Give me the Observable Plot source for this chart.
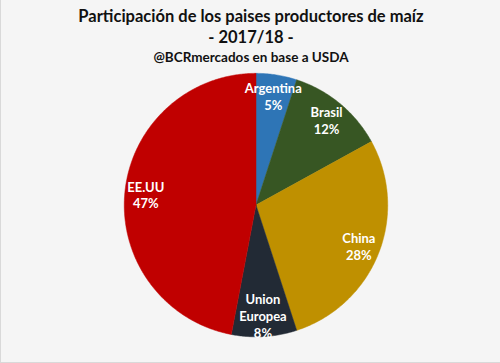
<!DOCTYPE html>
<html>
<head>
<meta charset="utf-8">
<script src="https://cdn.jsdelivr.net/npm/d3@7"></script>
<script src="https://cdn.jsdelivr.net/npm/@observablehq/plot@0.6"></script>
<style>
  html, body { margin: 0; padding: 0; }
  #wrap { position: relative; width: 500px; height: 363px; background: #f5f5f5; box-sizing: border-box; border-left: 1px solid #d9d9d9; border-bottom: 1px solid #d9d9d9; overflow: hidden; font-family: Lato, "Open Sans", sans-serif; }
  .t { position: absolute; left: 0; width: 500px; text-align: center; font-weight: bold; color: #111; }
  #chart { position: absolute; left: 0; top: 0; }
  #chart svg { overflow: visible; }
</style>
</head>
<body>
<div id="wrap">
  <div id="chart"></div>
  <div class="t" style="top:6px;font-size:16.5px;">Participación de los paises productores de maíz</div>
  <div class="t" style="top:27px;font-size:16.5px;">- 2017/18 -</div>
  <div class="t" style="top:49px;font-size:13.5px;">@BCRmercados en base a USDA</div>
</div>
<script>
const countries = ["Argentina", "Brasil", "China", "Union\nEuropea", "EE.UU"];
const shares = [5, 12, 28, 8, 47];
const colors = ["#2e75b6", "#375623", "#bf9000", "#222a35", "#c00000"];

const pie = d3.pie().sort(null).value(d => d.value);
const arcs = pie(countries.map((c, i) => ({name: c, value: shares[i]})));

// polygon points per slice in unit-circle coordinates (angle clockwise from top)
const slicePts = [];
arcs.forEach(a => {
  slicePts.push({name: a.data.name, x: 0, y: 0});
  const n = Math.max(4, Math.ceil((a.endAngle - a.startAngle) / 0.01));
  for (let k = 0; k <= n; k++) {
    const t = a.startAngle + (a.endAngle - a.startAngle) * k / n;
    slicePts.push({name: a.data.name, x: Math.sin(t), y: Math.cos(t)});
  }
  slicePts.push({name: a.data.name, x: 0, y: 0});
});

const labels = arcs.map(a => {
  const m = (a.startAngle + a.endAngle) / 2;
  const r = 0.84;
  return {text: a.data.name + "\n" + a.data.value + "%", x: r * Math.sin(m), y: r * Math.cos(m)};
});

const R = 132, cx = 255, cy = 205, W = 500, H = 363;
const chart = Plot.plot({
  width: W, height: H,
  margin: 0,
  x: {domain: [-cx / R, (W - cx) / R], axis: null},
  y: {domain: [-(H - cy) / R, cy / R], axis: null},
  color: {domain: countries, range: colors},
  style: {background: "transparent"},
  marks: [
    Plot.line(slicePts, {x: "x", y: "y", z: "name", fill: "name", stroke: "name", strokeWidth: 0.5, curve: "linear",
      style: "filter: drop-shadow(0px 3px 3px rgba(0,0,0,0.25))"}),
    Plot.text(labels, {x: "x", y: "y", text: "text", fill: "white", fontSize: 13, fontWeight: "bold",
      fontFamily: "Lato, 'Open Sans', sans-serif", lineHeight: 1.3, textAnchor: "middle"})
  ]
});
document.getElementById("chart").appendChild(chart);
</script>
</body>
</html>
